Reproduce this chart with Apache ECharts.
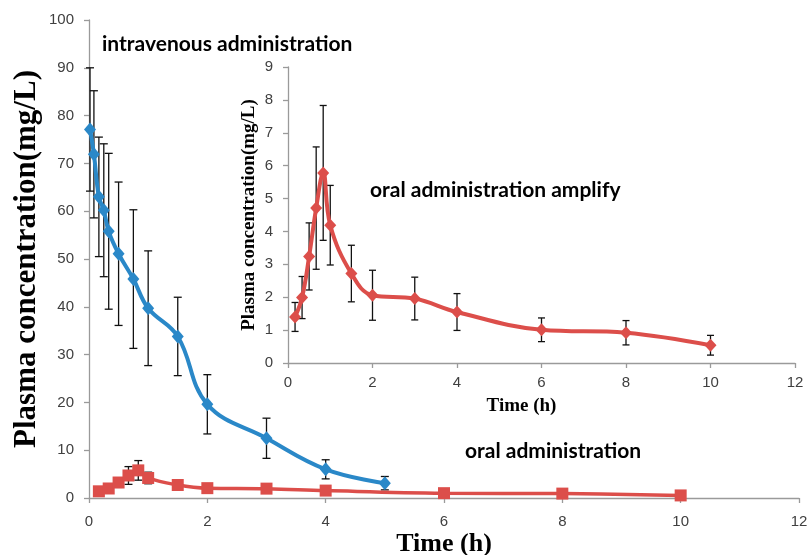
<!DOCTYPE html>
<html>
<head>
<meta charset="utf-8">
<script src="https://cdn.jsdelivr.net/npm/echarts@6/dist/echarts.min.js"></script>
<style>html,body{margin:0;padding:0;background:#fff}#chart{width:807px;height:555px}</style>
</head>
<body>
<div id="chart"></div>
<script>
// Intravenous administration (main chart, blue)
const ivTime = [0.017, 0.083, 0.167, 0.25, 0.333, 0.5, 0.75, 1, 1.5, 2, 3, 4, 5];
const ivConc = [77.1, 71.9, 63.0, 60.2, 55.8, 51.1, 45.8, 39.7, 33.8, 19.6, 12.5, 6.0, 3.1];
const ivSD   = [12.9, 13.3, 12.5, 13.9, 16.3, 15.0, 14.5, 12.0, 8.2, 6.2, 4.2, 2.0, 1.4];
// Oral administration (main chart red squares + inset)
const oralTime = [0.167, 0.333, 0.5, 0.667, 0.833, 1, 1.5, 2, 3, 4, 6, 8, 10];
const oralConc = [1.40, 1.99, 3.24, 4.71, 5.78, 4.19, 2.72, 2.06, 1.96, 1.55, 1.01, 0.92, 0.54];
const oralSD   = [0.44, 0.64, 1.02, 1.86, 2.05, 1.21, 0.86, 0.76, 0.65, 0.56, 0.36, 0.37, 0.30];

const mainYTicks = {min: 0, max: 100, interval: 10};
const insetYTicks = {min: 0, max: 9, interval: 1};
const xTicks = {min: 0, max: 12, interval: 2};

const yTitle = 'Plasma concentration(mg/L)';
const xTitle = 'Time (h)';
const notes = ['intravenous administration', 'oral administration amplify', 'oral administration'];

const BLUE = '#2A88C8';
const RED = '#DC4E4A';
const AXIS = '#9A9A9A';
const LABEL = '#404040';

function pairs(t, v) { return t.map((x, i) => [x, v[i]]); }
function errData(t, v, e) { return t.map((x, i) => [x, v[i], e[i]]); }

function errRender(capHalf) {
  return function (params, api) {
    const x = api.value(0), v = api.value(1), e = api.value(2);
    const top = api.coord([x, v + e]);
    const bot = api.coord([x, v - e]);
    const st = {stroke: '#111', lineWidth: 1.3};
    return {
      type: 'group',
      children: [
        {type: 'line', shape: {x1: top[0], y1: top[1], x2: bot[0], y2: bot[1]}, style: st},
        {type: 'line', shape: {x1: top[0] - capHalf, y1: top[1], x2: top[0] + capHalf, y2: top[1]}, style: st},
        {type: 'line', shape: {x1: bot[0] - capHalf, y1: bot[1], x2: bot[0] + capHalf, y2: bot[1]}, style: st}
      ]
    };
  };
}

const serif = '"Liberation Serif", "Times New Roman", serif';
const sans = '"Liberation Sans", Arial, sans-serif';
const noteFont = 'Lato, sans-serif';

function xAxisCfg(gridIndex, nameSize, nameGap, margin, pad) {
  return {
    type: 'value', gridIndex, min: xTicks.min, max: xTicks.max, interval: xTicks.interval,
    name: xTitle, nameLocation: 'middle', nameGap, nameMoveOverlap: false,
    nameTextStyle: {fontFamily: serif, fontWeight: 'bold', fontSize: nameSize, color: '#000', padding: pad || 0},
    axisLine: {show: true, lineStyle: {color: AXIS, width: 1.3}},
    axisTick: {show: true, inside: false, length: 5, lineStyle: {color: AXIS, width: 1.3}},
    axisLabel: {color: LABEL, fontFamily: sans, fontSize: 15, margin},
    splitLine: {show: false}
  };
}
function yAxisCfg(gridIndex, ticks, nameSize, nameGap) {
  return {
    type: 'value', gridIndex, min: ticks.min, max: ticks.max, interval: ticks.interval,
    name: yTitle, nameLocation: 'middle', nameGap, nameRotate: 90, nameMoveOverlap: false,
    nameTextStyle: {fontFamily: serif, fontWeight: 'bold', fontSize: nameSize, color: '#000'},
    axisLine: {show: true, lineStyle: {color: AXIS, width: 1.3}},
    axisTick: {show: true, inside: false, length: 5, lineStyle: {color: AXIS, width: 1.3}},
    axisLabel: {color: LABEL, fontFamily: sans, fontSize: 15, margin: 15},
    splitLine: {show: false}
  };
}

function note(text, x, y) {
  return {type: 'text', x, y, style: {text, fontFamily: noteFont, fontWeight: 'bold', fontSize: 21, fill: '#000', textVerticalAlign: 'middle'}};
}

const chart = echarts.init(document.getElementById('chart'), null, {renderer: 'canvas'});
chart.setOption({
  backgroundColor: '#fff',
  animation: false,
  grid: [
    {left: 89, top: 20, width: 710, height: 478, outerBoundsMode: 'none', containLabel: false},
    {left: 288, top: 67, width: 507, height: 296, outerBoundsMode: 'none', containLabel: false}
  ],
  xAxis: [
    xAxisCfg(0, 26, 33, 16),
    xAxisCfg(1, 19, 34, 12, [0, 40, 0, 0])
  ],
  yAxis: [
    yAxisCfg(0, mainYTicks, 31, 47),
    yAxisCfg(1, insetYTicks, 19, 29)
  ],
  series: [
    {type: 'custom', xAxisIndex: 0, yAxisIndex: 0, z: 1, renderItem: errRender(4), data: errData(ivTime, ivConc, ivSD)},
    {type: 'custom', xAxisIndex: 0, yAxisIndex: 0, z: 1, renderItem: errRender(4), data: errData(oralTime, oralConc, oralSD)},
    {type: 'custom', xAxisIndex: 1, yAxisIndex: 1, z: 1, renderItem: errRender(3.5), data: errData(oralTime, oralConc, oralSD)},
    {type: 'line', name: 'iv', xAxisIndex: 0, yAxisIndex: 0, z: 3, data: pairs(ivTime, ivConc), smooth: 0.4,
     symbol: 'diamond', symbolSize: [12, 14], lineStyle: {color: BLUE, width: 4}, itemStyle: {color: BLUE}},
    {type: 'line', name: 'oral', xAxisIndex: 0, yAxisIndex: 0, z: 3, data: pairs(oralTime, oralConc), smooth: 0.4,
     symbol: 'rect', symbolSize: 12, lineStyle: {color: RED, width: 3.5}, itemStyle: {color: RED}},
    {type: 'line', name: 'oral amplify', xAxisIndex: 1, yAxisIndex: 1, z: 3, data: pairs(oralTime, oralConc), smooth: 0.4,
     symbol: 'diamond', symbolSize: [12, 13], lineStyle: {color: RED, width: 4}, itemStyle: {color: RED}}
  ],
  graphic: [
    note(notes[0], 102, 44),
    note(notes[1], 370, 190),
    note(notes[2], 465, 451)
  ]
});
</script>
</body>
</html>
